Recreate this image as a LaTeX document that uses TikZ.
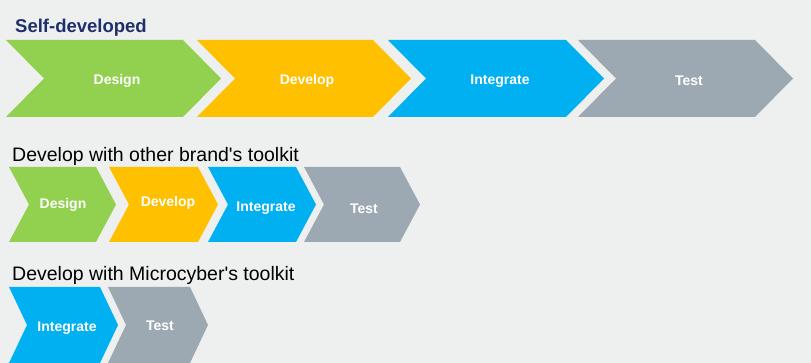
\documentclass[tikz,border=0pt]{standalone}
\usepackage{fontspec}
\setmainfont{Liberation Sans}
\newfontfamily\titlefont{Liberation Sans}
\usepackage{tikz}
\definecolor{bg}{RGB}{238, 240, 239}
\definecolor{design}{RGB}{146, 208, 80}
\definecolor{develop}{RGB}{255, 192, 0}
\definecolor{integrate}{RGB}{0, 176, 240}
\definecolor{test}{RGB}{157, 169, 178}
\definecolor{navy}{RGB}{31, 47, 107}

\tikzset{
  steplabel/.style={text=white, inner sep=0pt, yshift=-2pt, font=\bfseries\fontsize{14}{14}\selectfont},
  rowtitle/.style={anchor=base west, inner sep=0pt, font=\titlefont\fontsize{19.5}{20}\selectfont}
}

\begin{document}
\begin{tikzpicture}[x=1pt, y=-1pt]
  \fill [bg] (0, 0) rectangle (811, 363);
  \useasboundingbox (0, 0) rectangle (811, 363);

  % self-developed
  \node[rowtitle, text=navy, font=\bfseries\fontsize{18.5}{19}\selectfont] (selfTitle) at (15, 33) {Self-developed};
  \foreach \l/\r/\c/\x/\t/\n in {6/183/design/117/Design/selfDesign, 197/373/develop/307/Develop/selfDevelop,
                                 388/566/integrate/500/Integrate/selfIntegrate, 578/755/test/689/Test/selfTest}
  {
    \fill [\c] (\l, 40) -- (\r, 40) -- (\r+38, 78.5) -- (\r, 117) -- (\l, 117) -- (\l+38, 78.5) -- cycle;
    \node[steplabel] (\n) at (\x, 79) {\t};
  }

  % other brand's toolkit
  \node[rowtitle] (otherTitle) at (12, 162) {Develop with other brand's toolkit};
  \foreach \l/\r/\c/\x/\y/\t/\n in {9/96/design/63/203/Design/otherDesign, 109/198/develop/168/201/Develop/otherDevelop,
                                    208/296/integrate/266/206/Integrate/otherIntegrate, 304/400/test/364/207/Test/otherTest}
  {
    \fill [\c] (\l, 167) -- (\r, 167) -- (\r+20, 204.5) -- (\r, 242) -- (\l, 242) -- (\l+20, 204.5) -- cycle;
    \node[steplabel] (\n) at (\x, \y) {\t};
  }

  % Microcyber's toolkit
  \node[rowtitle] (mcTitle) at (12, 280) {Develop with Microcyber's toolkit};
  \foreach \l/\r/\c/\x/\y/\t/\n in {9/100/integrate/67/326/Integrate/mcIntegrate, 108/190/test/160/324/Test/mcTest}
  {
    \fill [\c] (\l, 287) -- (\r, 287) -- (\r+18, 325) -- (\r, 363) -- (\l, 363) -- (\l+18, 325) -- cycle;
    \node[steplabel] (\n) at (\x, \y) {\t};
  }
\end{tikzpicture}
\end{document}
